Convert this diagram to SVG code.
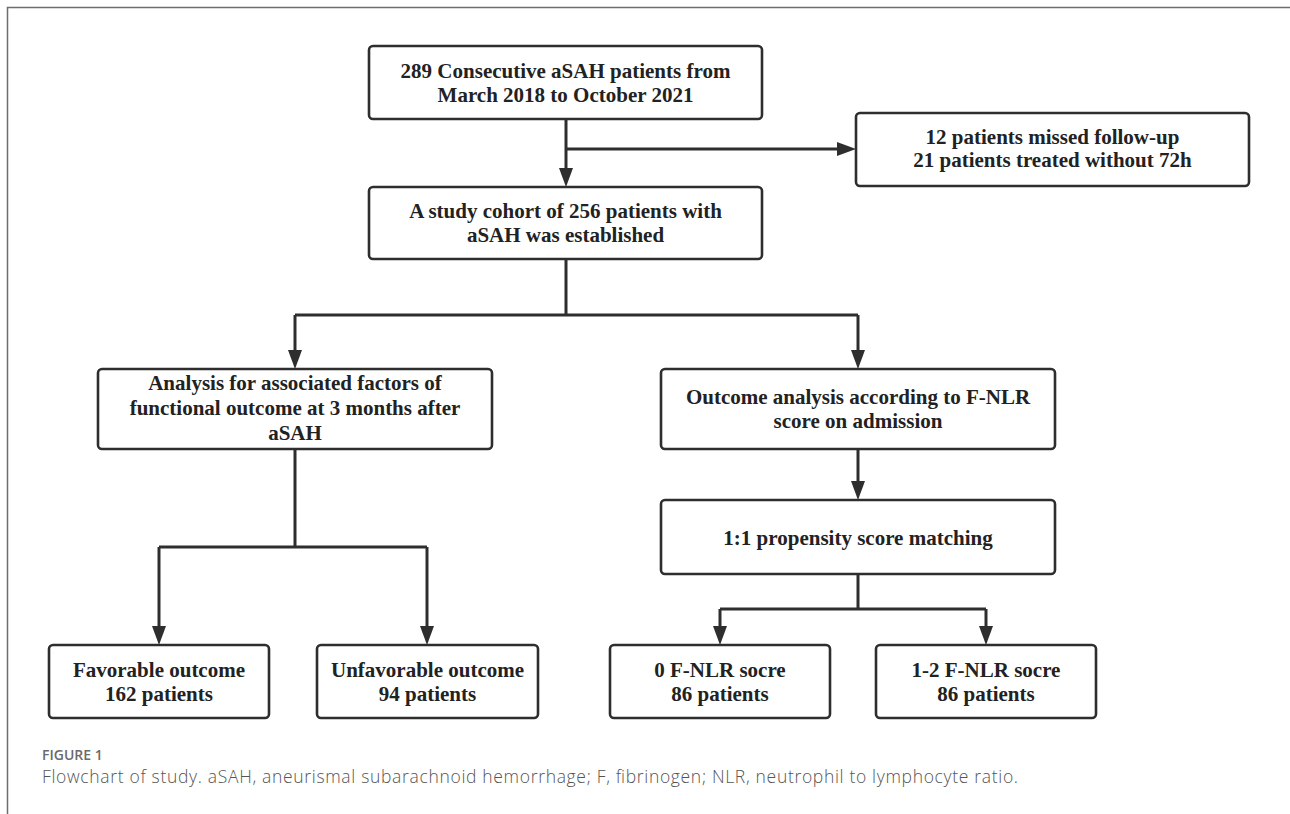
<svg xmlns="http://www.w3.org/2000/svg" width="1290" height="814" viewBox="0 0 1290 814">
<style>
  .box { fill: #ffffff; stroke: #2e2e2e; stroke-width: 2.6; }
  .lbl { font-family: "Liberation Serif", "Times New Roman", serif; font-weight: bold; font-size: 21px; fill: #222222; text-anchor: middle; }
  .conn { fill: none; stroke: #2e2e2e; stroke-width: 3; }
  .frame { fill: none; stroke: #6e6e6e; stroke-width: 1.5; }
  .figno { font-family: "Open Sans", "Noto Sans", sans-serif; font-weight: 600; font-size: 14px; fill: #6a6a6a; }
  .cap { font-family: "Open Sans", "Noto Sans", sans-serif; font-weight: 300; font-size: 17.5px; fill: #555555; }
</style>
<defs>
  <marker id="arrow" viewBox="0 0 19 14" refX="0" refY="7" markerWidth="19" markerHeight="14" markerUnits="userSpaceOnUse" orient="auto">
    <path d="M0,0 L19,7 L0,14 Z" fill="#2e2e2e"/>
  </marker>
</defs>
<rect width="1290" height="814" fill="#ffffff"/>
<path class="frame" d="M7.5,814 L7.5,7.5 L1290,7.5"/>

<g id="connectors">
  <path class="conn" d="M566,119 L566,168" marker-end="url(#arrow)"/>
  <path class="conn" d="M566,149 L837,149" marker-end="url(#arrow)"/>
  <path class="conn" d="M566,259 L566,315 M295,315 L858,315"/>
  <path class="conn" d="M295,315 L295,350" marker-end="url(#arrow)"/>
  <path class="conn" d="M858,315 L858,350" marker-end="url(#arrow)"/>
  <path class="conn" d="M295,449 L295,547 M159,547 L427,547"/>
  <path class="conn" d="M159,547 L159,626" marker-end="url(#arrow)"/>
  <path class="conn" d="M427,547 L427,626" marker-end="url(#arrow)"/>
  <path class="conn" d="M858,449 L858,481" marker-end="url(#arrow)"/>
  <path class="conn" d="M858,574 L858,609 M720,609 L986,609"/>
  <path class="conn" d="M720,609 L720,626" marker-end="url(#arrow)"/>
  <path class="conn" d="M986,609 L986,626" marker-end="url(#arrow)"/>
</g>

<g id="n1">
  <rect class="box" x="369" y="46" width="393" height="73" rx="4"/>
  <text class="lbl" x="565.5" y="78">289 Consecutive aSAH patients from</text>
  <text class="lbl" x="565.5" y="102">March 2018 to October 2021</text>
</g>
<g id="n2">
  <rect class="box" x="856" y="113" width="393" height="73" rx="4"/>
  <text class="lbl" x="1052.5" y="144">12 patients missed follow-up</text>
  <text class="lbl" x="1052.5" y="167">21 patients treated without 72h</text>
</g>
<g id="n3">
  <rect class="box" x="369" y="187" width="393" height="72" rx="4"/>
  <text class="lbl" x="565.5" y="218">A study cohort of 256 patients with</text>
  <text class="lbl" x="565.5" y="242">aSAH was established</text>
</g>
<g id="n4">
  <rect class="box" x="98" y="369" width="394" height="80" rx="4"/>
  <text class="lbl" x="295" y="390">Analysis for associated factors of</text>
  <text class="lbl" x="295" y="415">functional outcome at 3 months after</text>
  <text class="lbl" x="295" y="440">aSAH</text>
</g>
<g id="n5">
  <rect class="box" x="661" y="369" width="394" height="80" rx="4"/>
  <text class="lbl" x="858" y="404">Outcome analysis according to F-NLR</text>
  <text class="lbl" x="858" y="428">score on admission</text>
</g>
<g id="n6">
  <rect class="box" x="661" y="500" width="394" height="74" rx="4"/>
  <text class="lbl" x="858" y="545">1:1 propensity score matching</text>
</g>
<g id="n7">
  <rect class="box" x="49" y="645" width="220" height="73" rx="4"/>
  <text class="lbl" x="159" y="677">Favorable outcome</text>
  <text class="lbl" x="159" y="701">162 patients</text>
</g>
<g id="n8">
  <rect class="box" x="317" y="645" width="221" height="73" rx="4"/>
  <text class="lbl" x="427.5" y="677">Unfavorable outcome</text>
  <text class="lbl" x="427.5" y="701">94 patients</text>
</g>
<g id="n9">
  <rect class="box" x="610" y="645" width="220" height="73" rx="4"/>
  <text class="lbl" x="720" y="677">0 F-NLR socre</text>
  <text class="lbl" x="720" y="701">86 patients</text>
</g>
<g id="n10">
  <rect class="box" x="876" y="645" width="220" height="73" rx="4"/>
  <text class="lbl" x="986" y="677">1-2 F-NLR socre</text>
  <text class="lbl" x="986" y="701">86 patients</text>
</g>

<g id="caption">
  <text class="figno" x="42" y="760">FIGURE 1</text>
  <text class="cap" x="42" y="783" textLength="976" lengthAdjust="spacing">Flowchart of study. aSAH, aneurismal subarachnoid hemorrhage; F, fibrinogen; NLR, neutrophil to lymphocyte ratio.</text>
</g>
</svg>
